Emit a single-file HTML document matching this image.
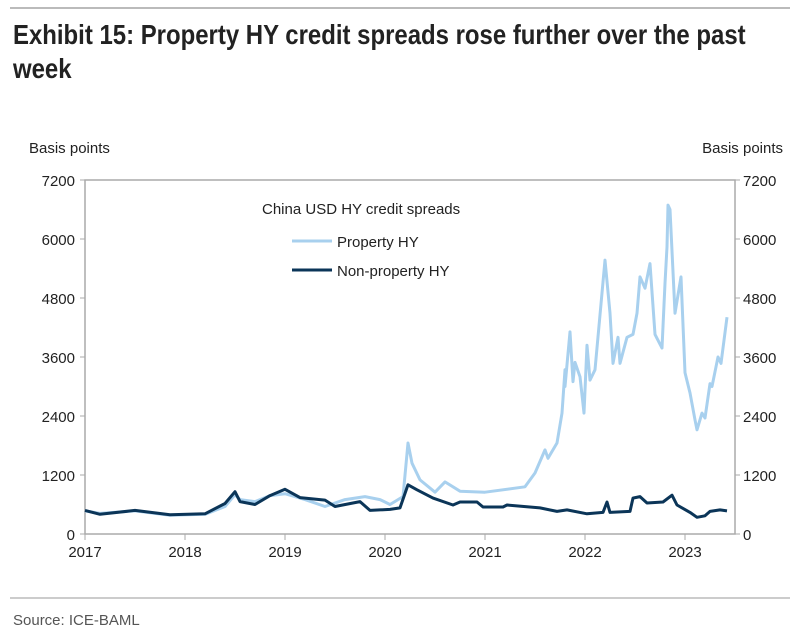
<!DOCTYPE html>
<html><head><meta charset="utf-8"><style>
body{margin:0;background:#fff;width:798px;height:639px;overflow:hidden;font-family:"Liberation Sans",sans-serif;}
#title{position:absolute;left:13px;top:18px;font-family:"Liberation Sans",sans-serif;font-weight:bold;font-size:28px;line-height:34px;color:#222;white-space:nowrap;transform:scaleX(0.855);transform-origin:0 0}
svg{position:absolute;left:0;top:0}
</style></head><body>
<div style="position:absolute;left:10px;top:7px;width:780px;height:2px;background:#bbb"></div>
<div id="title">Exhibit 15: Property HY credit spreads rose further over the past<br>week</div>
<svg id="chart" width="798" height="639"></svg>
<script>
const xYears=[2017,2018,2019,2020,2021,2022,2023];
const yTicks=[0,1200,2400,3600,4800,6000,7200];
const propT=[2017.0,2017.15,2017.5,2017.85,2018.2,2018.4,2018.5,2018.55,2018.7,2018.85,2019.0,2019.2,2019.4,2019.6,2019.8,2019.95,2020.05,2020.18,2020.23,2020.27,2020.35,2020.5,2020.6,2020.75,2021.0,2021.4,2021.5,2021.6,2021.63,2021.72,2021.77,2021.8,2021.8,2021.85,2021.88,2021.9,2021.95,2021.99,2022.02,2022.05,2022.1,2022.2,2022.25,2022.28,2022.33,2022.35,2022.42,2022.48,2022.52,2022.55,2022.6,2022.65,2022.7,2022.77,2022.8,2022.82,2022.83,2022.85,2022.9,2022.96,2023.0,2023.05,2023.1,2023.12,2023.17,2023.2,2023.25,2023.27,2023.33,2023.36,2023.42];
const propV=[470,420,470,380,400,560,800,700,660,780,820,700,560,700,760,700,600,760,1850,1440,1100,850,1060,870,850,960,1240,1710,1540,1850,2460,3340,3000,4110,3100,3490,3200,2460,3840,3130,3340,5570,4490,3470,4000,3470,4000,4060,4490,5230,5000,5500,4060,3780,5100,5840,6690,6600,4490,5230,3280,2870,2320,2120,2460,2360,3060,3000,3600,3470,4410];
const nonT=[2017.0,2017.15,2017.5,2017.85,2018.2,2018.4,2018.5,2018.55,2018.7,2018.85,2019.0,2019.15,2019.4,2019.5,2019.75,2019.85,2020.05,2020.15,2020.23,2020.32,2020.48,2020.68,2020.75,2020.92,2020.98,2021.18,2021.22,2021.55,2021.72,2021.82,2022.02,2022.18,2022.22,2022.25,2022.45,2022.48,2022.55,2022.62,2022.78,2022.87,2022.92,2023.05,2023.12,2023.2,2023.25,2023.35,2023.42];
const nonV=[480,400,480,390,410,620,860,660,600,780,910,740,690,560,660,480,500,530,1000,900,730,590,650,650,550,550,590,530,460,490,410,440,650,440,460,730,760,630,650,790,590,440,340,370,460,490,470];
const X0=85,X1=735,Y0=534,Y1=180;
const xs=t=>X0+(t-2017)*100, ys=v=>Y0-(v/7200)*(Y0-Y1);
const svg=document.getElementById('chart');const NS='http://www.w3.org/2000/svg';
function mk(tag,attrs,txt){const e=document.createElementNS(NS,tag);for(const k in attrs)e.setAttribute(k,attrs[k]);if(txt!==undefined)e.textContent=txt;svg.appendChild(e);return e;}
let e=mk('rect',{x:X0,y:Y1,width:X1-X0,height:Y0-Y1,fill:'none',stroke:'#aaa','stroke-width':1.5});


yTicks.forEach(v=>{
 let t=mk('text',{x:X0-10,y:ys(v)+6,'text-anchor':'end','font-size':15,fill:'#222'},v);
 
 
 let t2=mk('text',{x:X1+8,y:ys(v)+6,'font-size':15,fill:'#222'},v);
 
 
 mk('line',{x1:X0-5,x2:X0,y1:ys(v),y2:ys(v),stroke:'#aaa'});
 mk('line',{x1:X1,x2:X1+5,y1:ys(v),y2:ys(v),stroke:'#aaa'});
});
xYears.forEach(y=>{
 mk('line',{x1:xs(y),x2:xs(y),y1:Y0,y2:Y0+6,stroke:'#aaa'});
 let t=mk('text',{x:xs(y),y:Y0+23,'text-anchor':'middle','font-size':15,fill:'#222'},y);
 
 
});
function line(T,V,col,name){const d=T.map((t,i)=>(i?'L':'M')+xs(t).toFixed(1)+','+ys(V[i]).toFixed(1)).join('');
 let p=mk('path',{d:d,fill:'none',stroke:col,'stroke-width':3,'stroke-linejoin':'round'});
 
 }
line(propT,propV,'#a8d0ee','property-hy-line');
line(nonT,nonV,'#0b3558','non-property-hy-line');
let a=mk('text',{x:29,y:153,'font-size':15,fill:'#222'},'Basis points');


let b=mk('text',{x:783,y:153,'text-anchor':'end','font-size':15,fill:'#222'},'Basis points');


let l0=mk('text',{x:262,y:214,'font-size':15,fill:'#222'},'China USD HY credit spreads');


mk('line',{x1:292,x2:332,y1:241,y2:241,stroke:'#a8d0ee','stroke-width':3});
let l1=mk('text',{x:337,y:247,'font-size':15,fill:'#222'},'Property HY');


mk('line',{x1:292,x2:332,y1:270,y2:270,stroke:'#0b3558','stroke-width':3});
let l2=mk('text',{x:337,y:276,'font-size':15,fill:'#222'},'Non-property HY');


mk('line',{x1:10,x2:790,y1:598,y2:598,stroke:'#bbb','stroke-width':1.5});
let s=mk('text',{x:13,y:625,'font-size':15,fill:'#555'},'Source: ICE-BAML');


</script>
</body></html>
